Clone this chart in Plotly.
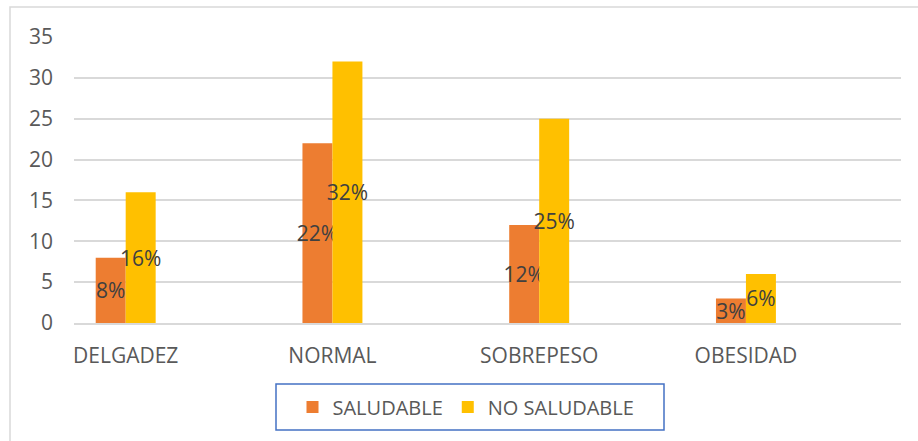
import plotly.graph_objects as go

categories = ["DELGADEZ", "NORMAL", "SOBREPESO", "OBESIDAD"]
saludable = [8, 22, 12, 3]
no_saludable = [16, 32, 25, 6]
series_names = ["SALUDABLE", "NO SALUDABLE"]
y_ticks = [0, 5, 10, 15, 20, 25, 30, 35]

FONT = "Open Sans"
TICK_COLOR = "#595959"
LABEL_COLOR = "#404040"

fig = go.Figure()
for name, vals, color in [(series_names[0], saludable, "#ED7D31"),
                          (series_names[1], no_saludable, "#FFC000")]:
    fig.add_trace(go.Bar(
        x=categories, y=vals, name=name,
        marker=dict(color=color, line=dict(width=0)),
        text=[f"{v}%" for v in vals],
        textposition="inside", insidetextanchor="middle",
        textangle=0, constraintext="none", cliponaxis=False,
        textfont=dict(family=FONT, size=21, color=LABEL_COLOR),
    ))

# plot area: x 74..901, y 37..323
L, R, T, B = 74, 17, 37, 118
W = 918 - L - R
H = 441 - T - B

def px_x(p):
    return (p - L) / W

def px_y(p):
    return (441 - B - p) / H

fig.update_layout(
    width=918, height=441,
    margin=dict(l=L, r=R, t=T, b=B, pad=0),
    paper_bgcolor="white", plot_bgcolor="white",
    barmode="group", bargap=0.71, bargroupgap=0,
    font=dict(family=FONT, color=TICK_COLOR),
    showlegend=True,
    legend=dict(
        orientation="h", x=px_x(466), y=px_y(407),
        xanchor="center", yanchor="middle",
        font=dict(family=FONT, size=20, color=TICK_COLOR),
        bgcolor="rgba(0,0,0,0)", borderwidth=0,
    ),
    shapes=[
        dict(type="rect", xref="paper", yref="paper",
             x0=px_x(276), x1=px_x(664), y0=px_y(430), y1=px_y(384),
             line=dict(color="#4472C4", width=1.5), fillcolor="rgba(0,0,0,0)"),
        dict(type="rect", xref="paper", yref="paper",
             x0=px_x(10), x1=px_x(930), y0=px_y(450), y1=px_y(7),
             line=dict(color="#D9D9D9", width=1.5), fillcolor="rgba(0,0,0,0)"),
    ],
)

fig.update_xaxes(
    type="category", range=[-0.25, 3.75],
    showgrid=False, showline=True, linecolor="#D9D9D9", linewidth=1.5,
    ticks="", tickfont=dict(family=FONT, size=21, color=TICK_COLOR),
    ticklabelstandoff=13, zeroline=False,
)
fig.update_yaxes(
    range=[0, 35], tickvals=y_ticks,
    showgrid=True, gridcolor="#D9D9D9", gridwidth=1.5,
    zeroline=False, showline=False, ticks="",
    tickfont=dict(family=FONT, size=21, color=TICK_COLOR),
    ticklabelstandoff=20,
)

fig.write_html("out.html")
